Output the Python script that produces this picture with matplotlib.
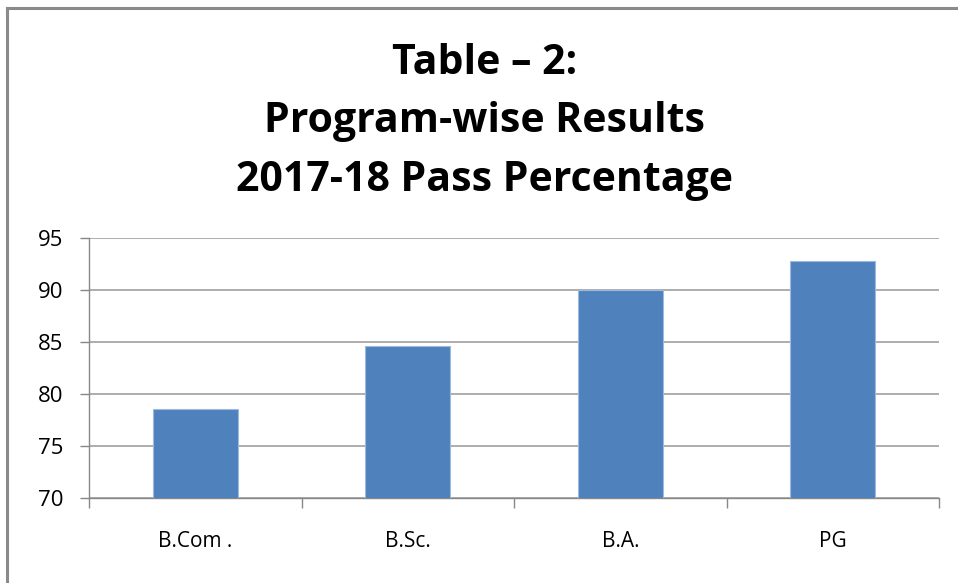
import matplotlib
matplotlib.use("Agg")
import matplotlib.pyplot as plt
from matplotlib.lines import Line2D

categories = ["B.Com .", "B.Sc.", "B.A.", "PG"]
values = [78.6, 84.6, 90.0, 92.8]
yticks = [70, 75, 80, 85, 90, 95]
title = "Table \u2013 2:\nProgram-wise Results\n2017-18 Pass Percentage"

W, H = 958, 583
fig = plt.figure(figsize=(W / 100, H / 100), dpi=100)
fig.patch.set_facecolor("white")

# outer frame (top and left visible)
fig.add_artist(Line2D([7 / W, 1], [1 - 8 / H, 1 - 8 / H], color="#8a8a8a", lw=2.2))
fig.add_artist(Line2D([7 / W, 7 / W], [0, 1 - 8 / H], color="#8a8a8a", lw=2.2))

ax = fig.add_axes([89 / W, 1 - 498 / H, (939 - 89) / W, (498 - 238) / H])
x = list(range(len(categories)))
ax.bar(x, values, width=0.4, color="#4F81BD", edgecolor="#9DB9E0", linewidth=0.8, zorder=3)
ax.set_xlim(-0.5, len(categories) - 0.5)
ax.set_ylim(70, 95)
ax.set_yticks(yticks)
ax.set_yticklabels([str(t) for t in yticks], fontsize=16, family=["Open Sans", "DejaVu Sans"])
ax.set_xticks(x)
ax.set_xticklabels(categories, fontsize=15, family=["Open Sans", "DejaVu Sans"])
ax.set_xticks([i - 0.5 for i in range(len(categories) + 1)], minor=True)
ax.tick_params(axis="x", which="major", length=0, pad=24)
ax.tick_params(axis="x", which="minor", length=7, color="#888888", width=1)
ax.tick_params(axis="y", length=6.5, color="#888888", width=1, pad=12)
ax.grid(axis="y", color="#a0a0a0", linewidth=1.2, zorder=0)
for s in ["top", "right"]:
    ax.spines[s].set_visible(False)
for s in ["left", "bottom"]:
    ax.spines[s].set_color("#888888")
    ax.spines[s].set_linewidth(1)

fig.text(485 / W, 1 - 122 / H, title, ha="center", va="center", fontsize=29.5,
         fontweight="bold", family=["Open Sans", "DejaVu Sans"], linespacing=1.55)

fig.savefig("out.png", dpi=100)
